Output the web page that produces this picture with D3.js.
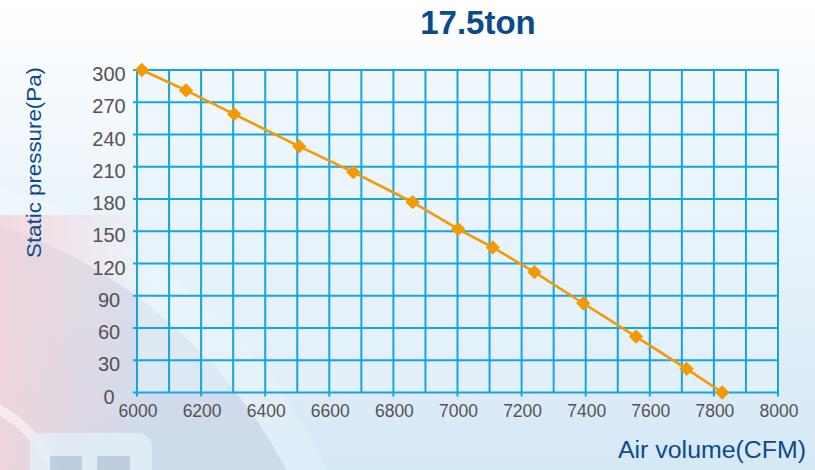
<!DOCTYPE html>
<html>
<head>
<meta charset="utf-8">
<script src="https://cdn.jsdelivr.net/npm/d3@7"></script>
<style>
  html, body { margin: 0; padding: 0; background: #fff; }
  svg { display: block; }
</style>
</head>
<body>
<svg id="chart" width="815" height="470"></svg>
<script>
// ---- data ----
const chartTitle = "17.5ton";
const xLabel = "Air volume(CFM)";
const yLabel = "Static pressure(Pa)";
const airVolume = [6015, 6153, 6303, 6506, 6675, 6860, 7002, 7110, 7240, 7392, 7557, 7715, 7826];
const staticPressure = [300, 281, 259, 229, 205, 177, 152, 135, 112, 83, 52, 22, 0];
const xTickValues = [6000, 6200, 6400, 6600, 6800, 7000, 7200, 7400, 7600, 7800, 8000];
const yTickValues = [0, 30, 60, 90, 120, 150, 180, 210, 240, 270, 300];
const xGridValues = [6000, 6100, 6200, 6300, 6400, 6500, 6600, 6700, 6800, 6900, 7000,
                     7100, 7200, 7300, 7400, 7500, 7600, 7700, 7800, 7900, 8000];

(function () {
// ---- layout ----
const svg = d3.select("#chart");
const W = 815, H = 470;
const pL = 137, pR = 778, pT = 70, pB = 392.5;
const x = d3.scaleLinear().domain([6000, 8000]).range([pL, pR]);
const y = d3.scaleLinear().domain([0, 300]).range([pB, pT]);

const defs = svg.append("defs");
const bg = defs.append("linearGradient").attr("id", "bg").attr("x1", 0).attr("y1", 0).attr("x2", 0).attr("y2", 1);
bg.append("stop").attr("offset", "0%").attr("stop-color", "#ffffff");
bg.append("stop").attr("offset", "35%").attr("stop-color", "#eef6fc");
bg.append("stop").attr("offset", "100%").attr("stop-color", "#d5e8f6");
const pink = defs.append("linearGradient").attr("id", "pink").attr("x1", 0).attr("y1", 0).attr("x2", 1).attr("y2", 0);
pink.append("stop").attr("offset", "0%").attr("stop-color", "#f3d3da").attr("stop-opacity", 0.85);
pink.append("stop").attr("offset", "100%").attr("stop-color", "#f3d3da").attr("stop-opacity", 0);

// background
svg.append("rect").attr("width", W).attr("height", H).attr("fill", "url(#bg)");
svg.append("circle").attr("cx", -165).attr("cy", 709).attr("r", 548)
  .attr("fill", "#ffffff").attr("fill-opacity", 0.22);
svg.append("circle").attr("cx", -165).attr("cy", 709).attr("r", 511)
  .attr("fill", "#b3bdd6").attr("fill-opacity", 0.38);
svg.append("rect").attr("x", 0).attr("y", 215).attr("width", 150).attr("height", 255)
  .attr("fill", "url(#pink)");
svg.append("circle").attr("cx", -60).attr("cy", 520).attr("r", 125)
  .attr("fill", "none").attr("stroke", "#ffffff").attr("stroke-opacity", 0.5).attr("stroke-width", 10);
svg.append("rect").attr("x", 30).attr("y", 433).attr("width", 122).attr("height", 60).attr("rx", 14)
  .attr("fill", "#e2f0f8").attr("fill-opacity", 0.8);
svg.append("rect").attr("x", 50).attr("y", 456).attr("width", 32).attr("height", 20)
  .attr("fill", "#b3c4d7").attr("fill-opacity", 0.75);
svg.append("rect").attr("x", 97).attr("y", 456).attr("width", 33).attr("height", 20)
  .attr("fill", "#b3c4d7").attr("fill-opacity", 0.75);

// plot background
svg.append("rect").attr("x", pL).attr("y", pT).attr("width", pR - pL).attr("height", pB - pT)
  .attr("fill", "#e8f4fc").attr("fill-opacity", 0.5);

// grid
const gridColor = "#13a5e6";
svg.append("g").selectAll("line").data(xGridValues).join("line")
  .attr("x1", d => x(d)).attr("x2", d => x(d))
  .attr("y1", pT).attr("y2", d => xTickValues.includes(d) ? pB + 4 : pB)
  .attr("stroke", gridColor).attr("stroke-width", 2);
svg.append("g").selectAll("line").data(yTickValues).join("line")
  .attr("x1", pL - 4).attr("x2", pR + 1)
  .attr("y1", d => y(d)).attr("y2", d => y(d))
  .attr("stroke", gridColor).attr("stroke-width", 2);

// tick labels
const tickFont = "Liberation Sans, Arial, sans-serif";
svg.append("g").selectAll("text").data(xTickValues).join("text")
  .attr("x", d => x(d) + 1).attr("y", 417)
  .attr("text-anchor", "middle")
  .attr("font-family", tickFont).attr("font-size", 17.5).attr("fill", "#575252")
  .text(d => d);
svg.append("g").selectAll("text").data(yTickValues).join("text")
  .attr("x", 109).attr("y", d => y(d) + 11)
  .attr("text-anchor", "middle")
  .attr("font-family", tickFont).attr("font-size", 20).attr("fill", "#575252")
  .text(d => d);

// line + markers
const pts = airVolume.map((v, i) => [v, staticPressure[i]]);
svg.append("path").datum(pts)
  .attr("d", d3.line().x(d => x(d[0])).y(d => y(d[1])))
  .attr("fill", "none").attr("stroke", "#f39a00").attr("stroke-width", 2.6);
svg.append("g").selectAll("path").data(pts).join("path")
  .attr("transform", d => `translate(${x(d[0])},${y(d[1])})`)
  .attr("d", d3.symbol().type(d3.symbolDiamond2).size(130))
  .attr("fill", "#f39a00");

// title and axis labels
svg.append("text").attr("x", 478).attr("y", 34).attr("text-anchor", "middle")
  .attr("font-family", tickFont).attr("font-weight", "bold").attr("font-size", 33)
  .attr("fill", "#0b4a8b").text(chartTitle);
svg.append("text").attr("x", 806).attr("y", 458).attr("text-anchor", "end")
  .attr("font-family", tickFont).attr("font-size", 23).attr("fill", "#0d4a8a")
  .attr("textLength", 188).attr("lengthAdjust", "spacingAndGlyphs")
  .text(xLabel);
svg.append("text").attr("transform", "translate(41,162.5) rotate(-90)").attr("text-anchor", "middle")
  .attr("font-family", tickFont).attr("font-size", 20).attr("fill", "#0d4a8a")
  .attr("textLength", 191).attr("lengthAdjust", "spacingAndGlyphs")
  .text(yLabel);
})();
</script>
</body>
</html>
